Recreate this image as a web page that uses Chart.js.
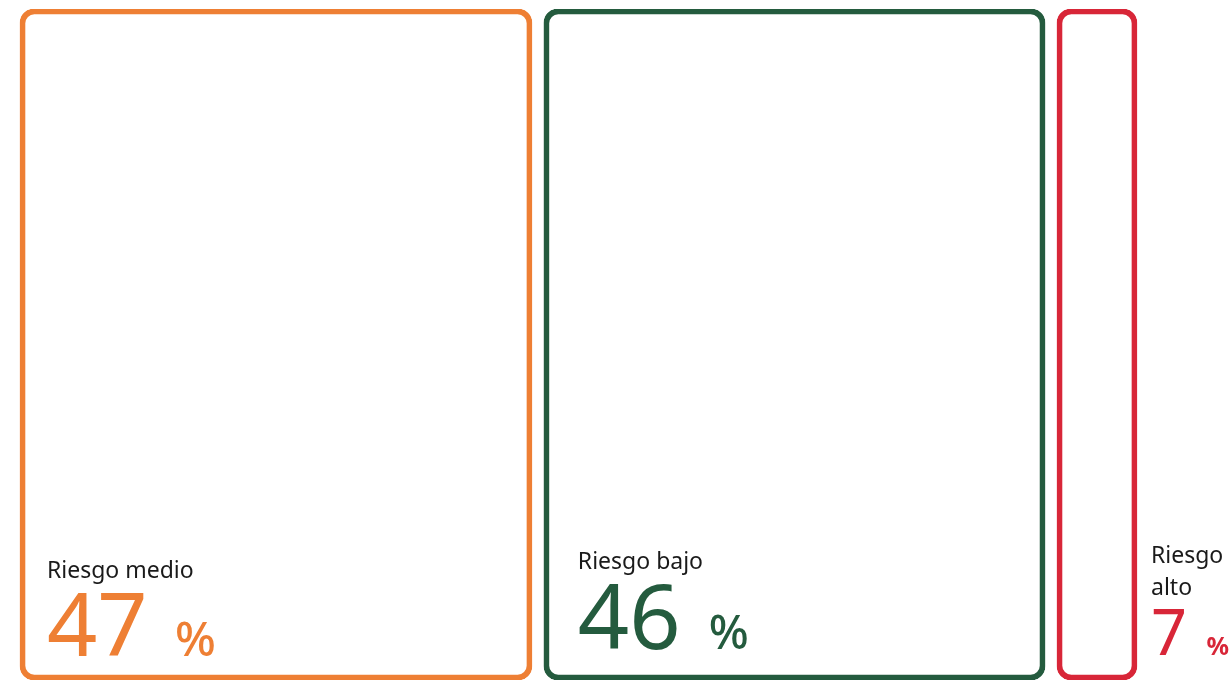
<!DOCTYPE html>
<html lang="es">
<head>
<meta charset="utf-8">
<title>Nivel de riesgo</title>
<script src="https://cdn.jsdelivr.net/npm/chart.js@4.4.1/dist/chart.umd.min.js"></script>
<style>
  html, body { margin: 0; padding: 0; background: #fff; overflow: hidden; }
  #riskChart { display: block; }
</style>
</head>
<body>
<canvas id="riskChart" width="1229" height="680"></canvas>
<script>
const riskLabels = ['Riesgo medio', 'Riesgo bajo', 'Riesgo alto'];
const riskShares = [47, 46, 7];
const riskColors = ['#ee7f34', '#245b3e', '#d82638'];

// x scale runs in percentage points; boxes sit side by side with a small gap
const BOX_START = 1.85;
const BOX_GAP = 1.1;
const BORDER_ALLOWANCE = 0.41; // stroke is drawn inside the bar, so add its width back
const X_MAX = 113.8;

const FONT = '"Noto Sans", "Open Sans", sans-serif';
const LABEL_COLOR = '#1a1a1a';
const LABEL_SIZE = 23;

// caption placement per box: inside (bottom-left) or outside to the right
const captionLayout = [
  { inside: true, dx: 27, baseFromBottom: 24, labelGap: 78, numberSize: 88, pctSize: 48, pctWeight: 500 },
  { inside: true, dx: 34, baseFromBottom: 31, labelGap: 80, numberSize: 90, pctSize: 47, pctWeight: 500 },
  { inside: false, dx: 14, baseFromBottom: 25, labelGap: 60, numberSize: 63, pctSize: 25, pctWeight: 700 },
];

function buildRanges(shares) {
  let cursor = BOX_START;
  return shares.map((share) => {
    const range = [cursor, cursor + share + BORDER_ALLOWANCE];
    cursor = range[1] + BOX_GAP;
    return range;
  });
}

const captionPlugin = {
  id: 'riskCaptions',
  afterDatasetsDraw(chart) {
    const { ctx } = chart;
    ctx.save();
    ctx.textAlign = 'left';
    ctx.textBaseline = 'alphabetic';
    chart.data.datasets.forEach((dataset, i) => {
      const bar = chart.getDatasetMeta(i).data[0];
      const { x, base, y, height } = bar.getProps(['x', 'base', 'y', 'height'], true);
      const layout = captionLayout[i];
      const bottom = y + height / 2;
      const left = layout.inside ? Math.min(x, base) + layout.dx : Math.max(x, base) + layout.dx;
      const numberBaseline = bottom - layout.baseFromBottom;

      // big number, then a smaller percent sign after a slightly wide space
      const numberText = String(riskShares[i]);
      ctx.fillStyle = dataset.borderColor;
      ctx.font = `400 ${layout.numberSize}px ${FONT}`;
      ctx.fillText(numberText, left, numberBaseline);
      const pctX = left + ctx.measureText(numberText + ' ').width + layout.numberSize * 0.05;
      ctx.font = `${layout.pctWeight} ${layout.pctSize}px ${FONT}`;
      ctx.fillText('%', pctX, numberBaseline);

      // category name; wraps word by word when it sits outside a narrow box
      const lines = layout.inside ? [riskLabels[i]] : riskLabels[i].split(' ');
      ctx.fillStyle = LABEL_COLOR;
      ctx.font = `400 ${LABEL_SIZE}px ${FONT}`;
      const lastBaseline = numberBaseline - layout.labelGap;
      lines.forEach((line, j) => {
        ctx.fillText(line, left, lastBaseline - (lines.length - 1 - j) * 32);
      });
    });
    ctx.restore();
  },
};

const ranges = buildRanges(riskShares);

new Chart(document.getElementById('riskChart').getContext('2d'), {
  type: 'bar',
  data: {
    labels: [''],
    datasets: riskLabels.map((label, i) => ({
      label,
      data: [ranges[i]],
      borderColor: riskColors[i],
      backgroundColor: 'rgba(255, 255, 255, 0)',
      borderWidth: 5,
      borderRadius: 14,
      borderSkipped: false,
      barPercentage: 1,
      categoryPercentage: 1,
    })),
  },
  options: {
    indexAxis: 'y',
    responsive: false,
    animation: false,
    layout: { padding: { top: 9, bottom: 0, left: 0, right: 0 } },
    plugins: {
      legend: { display: false },
      tooltip: { enabled: false },
    },
    scales: {
      x: { display: false, min: 0, max: X_MAX, stacked: false },
      y: { display: false, stacked: true },
    },
  },
  plugins: [captionPlugin],
});
</script>
</body>
</html>
